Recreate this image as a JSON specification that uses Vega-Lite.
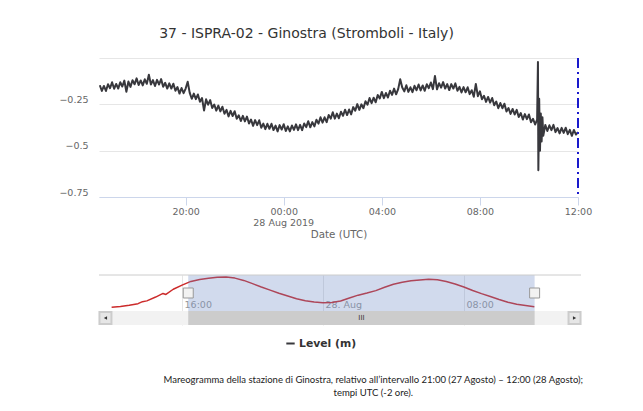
{
  "$schema": "https://vega.github.io/schema/vega-lite/v6.json",
  "background": "white",
  "padding": {"left": 58, "top": 27, "right": 10, "bottom": 4},
  "config": {"font": "DejaVu Sans", "view": {"stroke": null}},
  "datasets": {
    "main": [
      {"t":"2019-08-27T16:30Z","v":-0.147},{"t":"2019-08-27T16:35Z","v":-0.178},{"t":"2019-08-27T16:40Z","v":-0.151},{"t":"2019-08-27T16:45Z","v":-0.178},{"t":"2019-08-27T16:50Z","v":-0.142},{"t":"2019-08-27T16:55Z","v":-0.163},
      {"t":"2019-08-27T17:00Z","v":-0.131},{"t":"2019-08-27T17:05Z","v":-0.166},{"t":"2019-08-27T17:10Z","v":-0.140},{"t":"2019-08-27T17:15Z","v":-0.165},{"t":"2019-08-27T17:20Z","v":-0.131},{"t":"2019-08-27T17:25Z","v":-0.154},
      {"t":"2019-08-27T17:30Z","v":-0.122},{"t":"2019-08-27T17:35Z","v":-0.182},{"t":"2019-08-27T17:40Z","v":-0.127},{"t":"2019-08-27T17:45Z","v":-0.156},{"t":"2019-08-27T17:50Z","v":-0.120},{"t":"2019-08-27T17:55Z","v":-0.142},
      {"t":"2019-08-27T18:00Z","v":-0.110},{"t":"2019-08-27T18:05Z","v":-0.146},{"t":"2019-08-27T18:10Z","v":-0.121},{"t":"2019-08-27T18:15Z","v":-0.148},{"t":"2019-08-27T18:20Z","v":-0.115},{"t":"2019-08-27T18:25Z","v":-0.139},
      {"t":"2019-08-27T18:30Z","v":-0.090},{"t":"2019-08-27T18:35Z","v":-0.143},{"t":"2019-08-27T18:40Z","v":-0.119},{"t":"2019-08-27T18:45Z","v":-0.151},{"t":"2019-08-27T18:50Z","v":-0.118},{"t":"2019-08-27T18:55Z","v":-0.143},
      {"t":"2019-08-27T19:00Z","v":-0.114},{"t":"2019-08-27T19:05Z","v":-0.155},{"t":"2019-08-27T19:10Z","v":-0.134},{"t":"2019-08-27T19:15Z","v":-0.165},{"t":"2019-08-27T19:20Z","v":-0.137},{"t":"2019-08-27T19:25Z","v":-0.165},
      {"t":"2019-08-27T19:30Z","v":-0.139},{"t":"2019-08-27T19:35Z","v":-0.177},{"t":"2019-08-27T19:40Z","v":-0.157},{"t":"2019-08-27T19:45Z","v":-0.192},{"t":"2019-08-27T19:50Z","v":-0.162},{"t":"2019-08-27T19:55Z","v":-0.190},
      {"t":"2019-08-27T20:00Z","v":-0.165},{"t":"2019-08-27T20:05Z","v":-0.128},{"t":"2019-08-27T20:10Z","v":-0.188},{"t":"2019-08-27T20:15Z","v":-0.220},{"t":"2019-08-27T20:20Z","v":-0.192},{"t":"2019-08-27T20:25Z","v":-0.222},
      {"t":"2019-08-27T20:30Z","v":-0.197},{"t":"2019-08-27T20:35Z","v":-0.236},{"t":"2019-08-27T20:40Z","v":-0.216},{"t":"2019-08-27T20:45Z","v":-0.283},{"t":"2019-08-27T20:50Z","v":-0.223},{"t":"2019-08-27T20:55Z","v":-0.252},
      {"t":"2019-08-27T21:00Z","v":-0.227},{"t":"2019-08-27T21:05Z","v":-0.270},{"t":"2019-08-27T21:10Z","v":-0.251},{"t":"2019-08-27T21:15Z","v":-0.284},{"t":"2019-08-27T21:20Z","v":-0.257},{"t":"2019-08-27T21:25Z","v":-0.288},
      {"t":"2019-08-27T21:30Z","v":-0.263},{"t":"2019-08-27T21:35Z","v":-0.301},{"t":"2019-08-27T21:40Z","v":-0.280},{"t":"2019-08-27T21:45Z","v":-0.315},{"t":"2019-08-27T21:50Z","v":-0.285},{"t":"2019-08-27T21:55Z","v":-0.313},
      {"t":"2019-08-27T22:00Z","v":-0.287},{"t":"2019-08-27T22:05Z","v":-0.328},{"t":"2019-08-27T22:10Z","v":-0.309},{"t":"2019-08-27T22:15Z","v":-0.340},{"t":"2019-08-27T22:20Z","v":-0.312},{"t":"2019-08-27T22:25Z","v":-0.342},
      {"t":"2019-08-27T22:30Z","v":-0.316},{"t":"2019-08-27T22:35Z","v":-0.353},{"t":"2019-08-27T22:40Z","v":-0.332},{"t":"2019-08-27T22:45Z","v":-0.366},{"t":"2019-08-27T22:50Z","v":-0.335},{"t":"2019-08-27T22:55Z","v":-0.362},
      {"t":"2019-08-27T23:00Z","v":-0.336},{"t":"2019-08-27T23:05Z","v":-0.376},{"t":"2019-08-27T23:10Z","v":-0.354},{"t":"2019-08-27T23:15Z","v":-0.384},{"t":"2019-08-27T23:20Z","v":-0.355},{"t":"2019-08-27T23:25Z","v":-0.382},
      {"t":"2019-08-27T23:30Z","v":-0.355},{"t":"2019-08-27T23:35Z","v":-0.389},{"t":"2019-08-27T23:40Z","v":-0.365},{"t":"2019-08-27T23:45Z","v":-0.396},{"t":"2019-08-27T23:50Z","v":-0.362},{"t":"2019-08-27T23:55Z","v":-0.386},
      {"t":"2019-08-28T00:00Z","v":-0.357},{"t":"2019-08-28T00:05Z","v":-0.394},{"t":"2019-08-28T00:10Z","v":-0.369},{"t":"2019-08-28T00:15Z","v":-0.396},{"t":"2019-08-28T00:20Z","v":-0.364},{"t":"2019-08-28T00:25Z","v":-0.388},
      {"t":"2019-08-28T00:30Z","v":-0.358},{"t":"2019-08-28T00:35Z","v":-0.389},{"t":"2019-08-28T00:40Z","v":-0.361},{"t":"2019-08-28T00:45Z","v":-0.389},{"t":"2019-08-28T00:50Z","v":-0.353},{"t":"2019-08-28T00:55Z","v":-0.373},
      {"t":"2019-08-28T01:00Z","v":-0.341},{"t":"2019-08-28T01:05Z","v":-0.374},{"t":"2019-08-28T01:10Z","v":-0.346},{"t":"2019-08-28T01:15Z","v":-0.369},{"t":"2019-08-28T01:20Z","v":-0.333},{"t":"2019-08-28T01:25Z","v":-0.354},
      {"t":"2019-08-28T01:30Z","v":-0.320},{"t":"2019-08-28T01:35Z","v":-0.349},{"t":"2019-08-28T01:40Z","v":-0.320},{"t":"2019-08-28T01:45Z","v":-0.346},{"t":"2019-08-28T01:50Z","v":-0.308},{"t":"2019-08-28T01:55Z","v":-0.327},
      {"t":"2019-08-28T02:00Z","v":-0.293},{"t":"2019-08-28T02:05Z","v":-0.327},{"t":"2019-08-28T02:10Z","v":-0.300},{"t":"2019-08-28T02:15Z","v":-0.325},{"t":"2019-08-28T02:20Z","v":-0.290},{"t":"2019-08-28T02:25Z","v":-0.312},
      {"t":"2019-08-28T02:30Z","v":-0.279},{"t":"2019-08-28T02:35Z","v":-0.308},{"t":"2019-08-28T02:40Z","v":-0.278},{"t":"2019-08-28T02:45Z","v":-0.304},{"t":"2019-08-28T02:50Z","v":-0.265},{"t":"2019-08-28T02:55Z","v":-0.284},
      {"t":"2019-08-28T03:00Z","v":-0.249},{"t":"2019-08-28T03:05Z","v":-0.280},{"t":"2019-08-28T03:10Z","v":-0.250},{"t":"2019-08-28T03:15Z","v":-0.271},{"t":"2019-08-28T03:20Z","v":-0.233},{"t":"2019-08-28T03:25Z","v":-0.252},
      {"t":"2019-08-28T03:30Z","v":-0.216},{"t":"2019-08-28T03:35Z","v":-0.244},{"t":"2019-08-28T03:40Z","v":-0.214},{"t":"2019-08-28T03:45Z","v":-0.239},{"t":"2019-08-28T03:50Z","v":-0.200},{"t":"2019-08-28T03:55Z","v":-0.218},
      {"t":"2019-08-28T04:00Z","v":-0.183},{"t":"2019-08-28T04:05Z","v":-0.217},{"t":"2019-08-28T04:10Z","v":-0.189},{"t":"2019-08-28T04:15Z","v":-0.213},{"t":"2019-08-28T04:20Z","v":-0.177},{"t":"2019-08-28T04:25Z","v":-0.199},
      {"t":"2019-08-28T04:30Z","v":-0.165},{"t":"2019-08-28T04:35Z","v":-0.196},{"t":"2019-08-28T04:40Z","v":-0.168},{"t":"2019-08-28T04:45Z","v":-0.115},{"t":"2019-08-28T04:50Z","v":-0.159},{"t":"2019-08-28T04:55Z","v":-0.180},
      {"t":"2019-08-28T05:00Z","v":-0.147},{"t":"2019-08-28T05:05Z","v":-0.183},{"t":"2019-08-28T05:10Z","v":-0.158},{"t":"2019-08-28T05:15Z","v":-0.184},{"t":"2019-08-28T05:20Z","v":-0.150},{"t":"2019-08-28T05:25Z","v":-0.174},
      {"t":"2019-08-28T05:30Z","v":-0.143},{"t":"2019-08-28T05:35Z","v":-0.175},{"t":"2019-08-28T05:40Z","v":-0.148},{"t":"2019-08-28T05:45Z","v":-0.177},{"t":"2019-08-28T05:50Z","v":-0.142},{"t":"2019-08-28T05:55Z","v":-0.163},
      {"t":"2019-08-28T06:00Z","v":-0.132},{"t":"2019-08-28T06:05Z","v":-0.168},{"t":"2019-08-28T06:10Z","v":-0.097},{"t":"2019-08-28T06:15Z","v":-0.169},{"t":"2019-08-28T06:20Z","v":-0.136},{"t":"2019-08-28T06:25Z","v":-0.160},
      {"t":"2019-08-28T06:30Z","v":-0.130},{"t":"2019-08-28T06:35Z","v":-0.165},{"t":"2019-08-28T06:40Z","v":-0.141},{"t":"2019-08-28T06:45Z","v":-0.173},{"t":"2019-08-28T06:50Z","v":-0.141},{"t":"2019-08-28T06:55Z","v":-0.165},
      {"t":"2019-08-28T07:00Z","v":-0.137},{"t":"2019-08-28T07:05Z","v":-0.177},{"t":"2019-08-28T07:10Z","v":-0.156},{"t":"2019-08-28T07:15Z","v":-0.186},{"t":"2019-08-28T07:20Z","v":-0.157},{"t":"2019-08-28T07:25Z","v":-0.185},
      {"t":"2019-08-28T07:30Z","v":-0.158},{"t":"2019-08-28T07:35Z","v":-0.195},{"t":"2019-08-28T07:40Z","v":-0.174},{"t":"2019-08-28T07:45Z","v":-0.209},{"t":"2019-08-28T07:50Z","v":-0.140},{"t":"2019-08-28T07:55Z","v":-0.206},
      {"t":"2019-08-28T08:00Z","v":-0.180},{"t":"2019-08-28T08:05Z","v":-0.223},{"t":"2019-08-28T08:10Z","v":-0.204},{"t":"2019-08-28T08:15Z","v":-0.237},{"t":"2019-08-28T08:20Z","v":-0.210},{"t":"2019-08-28T08:25Z","v":-0.241},
      {"t":"2019-08-28T08:30Z","v":-0.216},{"t":"2019-08-28T08:35Z","v":-0.255},{"t":"2019-08-28T08:40Z","v":-0.235},{"t":"2019-08-28T08:45Z","v":-0.271},{"t":"2019-08-28T08:50Z","v":-0.243},{"t":"2019-08-28T08:55Z","v":-0.271},
      {"t":"2019-08-28T09:00Z","v":-0.247},{"t":"2019-08-28T09:05Z","v":-0.289},{"t":"2019-08-28T09:10Z","v":-0.270},{"t":"2019-08-28T09:15Z","v":-0.302},{"t":"2019-08-28T09:20Z","v":-0.275},{"t":"2019-08-28T09:25Z","v":-0.305},
      {"t":"2019-08-28T09:30Z","v":-0.280},{"t":"2019-08-28T09:35Z","v":-0.318},{"t":"2019-08-28T09:40Z","v":-0.297},{"t":"2019-08-28T09:45Z","v":-0.332},{"t":"2019-08-28T09:50Z","v":-0.303},{"t":"2019-08-28T09:55Z","v":-0.330},
      {"t":"2019-08-28T10:00Z","v":-0.305},{"t":"2019-08-28T10:05Z","v":-0.347},{"t":"2019-08-28T10:10Z","v":-0.328},{"t":"2019-08-28T10:15Z","v":-0.359},{"t":"2019-08-28T10:20Z","v":-0.332},
      {"t":"2019-08-28T10:22Z","v":-0.022},{"t":"2019-08-28T10:23Z","v":-0.605},{"t":"2019-08-28T10:25Z","v":-0.220},{"t":"2019-08-28T10:27Z","v":-0.500},{"t":"2019-08-28T10:29Z","v":-0.300},{"t":"2019-08-28T10:31Z","v":-0.450},{"t":"2019-08-28T10:33Z","v":-0.320},{"t":"2019-08-28T10:35Z","v":-0.420},
      {"t":"2019-08-28T10:40Z","v":-0.361},{"t":"2019-08-28T10:45Z","v":-0.394},{"t":"2019-08-28T10:50Z","v":-0.363},{"t":"2019-08-28T10:55Z","v":-0.389},
      {"t":"2019-08-28T11:00Z","v":-0.361},{"t":"2019-08-28T11:05Z","v":-0.400},{"t":"2019-08-28T11:10Z","v":-0.378},{"t":"2019-08-28T11:15Z","v":-0.407},{"t":"2019-08-28T11:20Z","v":-0.377},{"t":"2019-08-28T11:25Z","v":-0.404},
      {"t":"2019-08-28T11:30Z","v":-0.376},{"t":"2019-08-28T11:35Z","v":-0.411},{"t":"2019-08-28T11:40Z","v":-0.388},{"t":"2019-08-28T11:45Z","v":-0.420},{"t":"2019-08-28T11:50Z","v":-0.388},{"t":"2019-08-28T11:55Z","v":-0.413},
      {"t":"2019-08-28T12:00Z","v":-0.400}
    ],
    "nav": [
      {"t":"2019-08-27T12:00Z","v":-0.428},{"t":"2019-08-27T12:30Z","v":-0.421},{"t":"2019-08-27T13:00Z","v":-0.408},{"t":"2019-08-27T13:30Z","v":-0.392},{"t":"2019-08-27T13:45Z","v":-0.372},{"t":"2019-08-27T14:00Z","v":-0.364},
      {"t":"2019-08-27T14:30Z","v":-0.326},{"t":"2019-08-27T14:55Z","v":-0.290},{"t":"2019-08-27T15:05Z","v":-0.300},{"t":"2019-08-27T15:30Z","v":-0.248},{"t":"2019-08-27T16:00Z","v":-0.207},
      {"t":"2019-08-27T16:30Z","v":-0.170},{"t":"2019-08-27T17:00Z","v":-0.150},{"t":"2019-08-27T17:30Z","v":-0.138},{"t":"2019-08-27T18:00Z","v":-0.129},{"t":"2019-08-27T18:30Z","v":-0.127},
      {"t":"2019-08-27T19:00Z","v":-0.137},{"t":"2019-08-27T19:30Z","v":-0.160},{"t":"2019-08-27T20:00Z","v":-0.192},{"t":"2019-08-27T20:30Z","v":-0.226},{"t":"2019-08-27T21:00Z","v":-0.257},
      {"t":"2019-08-27T21:30Z","v":-0.288},{"t":"2019-08-27T22:00Z","v":-0.316},{"t":"2019-08-27T22:30Z","v":-0.342},{"t":"2019-08-27T23:00Z","v":-0.362},{"t":"2019-08-27T23:30Z","v":-0.376},
      {"t":"2019-08-28T00:00Z","v":-0.382},{"t":"2019-08-28T00:30Z","v":-0.380},{"t":"2019-08-28T01:00Z","v":-0.366},{"t":"2019-08-28T01:30Z","v":-0.336},{"t":"2019-08-28T02:00Z","v":-0.307},
      {"t":"2019-08-28T02:30Z","v":-0.286},{"t":"2019-08-28T03:00Z","v":-0.262},{"t":"2019-08-28T03:30Z","v":-0.228},{"t":"2019-08-28T04:00Z","v":-0.198},{"t":"2019-08-28T04:30Z","v":-0.178},
      {"t":"2019-08-28T05:00Z","v":-0.164},{"t":"2019-08-28T05:30Z","v":-0.155},{"t":"2019-08-28T06:00Z","v":-0.148},{"t":"2019-08-28T06:30Z","v":-0.154},{"t":"2019-08-28T07:00Z","v":-0.170},
      {"t":"2019-08-28T07:30Z","v":-0.195},{"t":"2019-08-28T08:00Z","v":-0.225},{"t":"2019-08-28T08:30Z","v":-0.260},{"t":"2019-08-28T09:00Z","v":-0.292},{"t":"2019-08-28T09:30Z","v":-0.320},
      {"t":"2019-08-28T10:00Z","v":-0.350},{"t":"2019-08-28T10:30Z","v":-0.377},{"t":"2019-08-28T11:00Z","v":-0.397},{"t":"2019-08-28T11:30Z","v":-0.410},{"t":"2019-08-28T12:00Z","v":-0.422}
    ],
    "sel": [{"start":"2019-08-27T16:21Z","end":"2019-08-28T12:01Z"}],
    "ends": [{"t":"2019-08-27T16:21Z"},{"t":"2019-08-28T12:01Z"}]
  },
  "title": {
    "text": ["Mareogramma della stazione di Ginostra, relativo all’intervallo 21:00 (27 Agosto) – 12:00 (28 Agosto);", "tempi UTC (-2 ore)."],
    "orient": "bottom", "anchor": "middle", "font": "Lato", "fontSize": 9.5, "fontWeight": "normal",
    "color": "#222", "dx": 48, "offset": 26, "lineHeight": 13
  },
  "resolve": {"scale": {"x": "independent", "y": "independent"}},
  "bounds": "flush",
  "spacing": 78,
  "vconcat": [
    {
      "width": 479, "height": 139,
      "title": {"text": "37 - ISPRA-02 - Ginostra (Stromboli - Italy)", "fontSize": 14, "fontWeight": "normal", "color": "#333", "font": "DejaVu Sans", "dx": -32, "offset": 16, "anchor": "middle"},
      "layer": [
        {
          "data": {"name": "main"},
          "mark": {"type": "line", "strokeWidth": 2, "strokeJoin": "round"},
          "encoding": {
            "x": {"field": "t", "type": "temporal",
              "scale": {"type": "utc", "domain": [{"year": 2019, "month": 8, "date": 27, "hours": 16, "minutes": 28, "utc": true}, {"year": 2019, "month": 8, "date": 28, "hours": 12, "utc": true}]},
              "axis": {"values": [1566936000000, 1566950400000, 1566964800000, 1566979200000, 1566993600000],
                "labelExpr": "utcFormat(datum.value, '%H:%M')",
                "title": "Date (UTC)", "titleColor": "#666", "titleFontSize": 10.3, "titleFontWeight": "normal", "titlePadding": 14,
                "labelColor": "#666", "labelFontSize": 9.5, "labelPadding": 1, "labelFlush": false, "labelOverlap": false,
                "tickSize": 8, "tickColor": "#ccd6eb", "domainColor": "#ccd6eb", "grid": false}},
            "y": {"field": "v", "type": "quantitative",
              "scale": {"domain": [-0.75, 0], "nice": false, "zero": false},
              "axis": {"values": [-0.75, -0.5, -0.25, 0], "format": ".2~f", "labelExpr": "datum.value == 0 ? '' : datum.label", "title": null, "domain": false, "ticks": false,
                "gridColor": "#e6e6e6", "labelColor": "#666", "labelFontSize": 9.5, "labelPadding": 11, "labelBaseline": "bottom"}},
            "color": {"datum": "Level (m)", "scale": {"range": ["#38383d"]},
              "legend": {"title": null, "orient": "none", "legendX": 186, "legendY": 280, "symbolType": "stroke", "symbolStrokeWidth": 2, "symbolSize": 70,
                "labelFontWeight": "bold", "labelColor": "#333", "labelFontSize": 10.8, "labelOffset": 3}}
          }
        },
        {
          "data": {"name": "sel"},
          "mark": {"type": "rule", "color": "#1a1acc", "strokeWidth": 2, "strokeDash": [10, 4, 2, 4]},
          "encoding": {"x": {"datum": {"year": 2019, "month": 8, "date": 28, "hours": 12, "utc": true}, "type": "temporal"}}
        },
        {
          "data": {"name": "sel"},
          "mark": {"type": "text", "text": "28 Aug 2019", "fontSize": 9.5, "color": "#666", "baseline": "middle", "align": "center"},
          "encoding": {"x": {"datum": {"year": 2019, "month": 8, "date": 28, "hours": 0, "utc": true}, "type": "temporal"}, "y": {"datum": -0.891}}
        }
      ]
    },
    {
      "width": 482, "height": 50,
      "layer": [
        {
          "data": {"name": "nav"},
          "mark": {"type": "line", "color": "#cc2b2b", "strokeWidth": 1.5, "strokeJoin": "round"},
          "encoding": {
            "x": {"field": "t", "type": "temporal",
              "scale": {"type": "utc", "domain": [{"year": 2019, "month": 8, "date": 27, "hours": 11, "minutes": 17, "utc": true}, {"year": 2019, "month": 8, "date": 28, "hours": 14, "minutes": 39, "utc": true}]},
              "axis": {"values": [1566921600000, 1566950400000, 1566979200000], "title": null, "grid": true, "gridColor": "#e6e6e6", "ticks": false, "domain": false,
                "labelExpr": "utchours(datum.value) == 0 ? utcFormat(datum.value, '%d. %b') : utcFormat(datum.value, '%H:%M')",
                "labelAlign": "left", "labelBaseline": "middle", "labelPadding": -21, "labelOffset": 2, "labelColor": "#999", "labelFontSize": 9.5, "labelFlush": false}},
            "y": {"field": "v", "type": "quantitative", "scale": {"domain": [-0.6046, -0.106], "nice": false, "zero": false}, "axis": null}
          }
        },
        {
          "data": {"name": "sel"},
          "mark": {"type": "rect", "color": "#6685c2", "opacity": 0.3},
          "encoding": {"x": {"field": "start", "type": "temporal"}, "x2": {"field": "end"}, "y": {"datum": -0.465}, "y2": {"datum": -0.106}}
        },
        {
          "data": {"name": "sel"},
          "mark": {"type": "rule", "color": "#cccccc", "strokeWidth": 1},
          "encoding": {"y": {"datum": -0.106}}
        },
        {
          "data": {"name": "sel"},
          "mark": {"type": "rect", "color": "#f2f2f2"},
          "encoding": {"y": {"datum": -0.6046}, "y2": {"datum": -0.465}}
        },
        {
          "data": {"name": "sel"},
          "mark": {"type": "rect", "color": "#cccccc"},
          "encoding": {"x": {"field": "start", "type": "temporal"}, "x2": {"field": "end"}, "y": {"datum": -0.6046}, "y2": {"datum": -0.465}}
        },
        {
          "data": {"name": "sel"},
          "mark": {"type": "point", "shape": "square", "size": 144, "filled": true, "fill": "#e6e6e6", "stroke": "#cccccc", "opacity": 1},
          "encoding": {"x": {"datum": {"year": 2019, "month": 8, "date": 27, "hours": 11, "minutes": 39, "utc": true}, "type": "temporal"}, "y": {"datum": -0.5348}}
        },
        {
          "data": {"name": "sel"},
          "mark": {"type": "point", "shape": "square", "size": 144, "filled": true, "fill": "#e6e6e6", "stroke": "#cccccc", "opacity": 1},
          "encoding": {"x": {"datum": {"year": 2019, "month": 8, "date": 28, "hours": 14, "minutes": 17, "utc": true}, "type": "temporal"}, "y": {"datum": -0.5348}}
        },
        {
          "data": {"name": "sel"},
          "mark": {"type": "point", "shape": "triangle-left", "size": 14, "filled": true, "color": "#333", "opacity": 1},
          "encoding": {"x": {"datum": {"year": 2019, "month": 8, "date": 27, "hours": 11, "minutes": 39, "utc": true}, "type": "temporal"}, "y": {"datum": -0.5348}}
        },
        {
          "data": {"name": "sel"},
          "mark": {"type": "point", "shape": "triangle-right", "size": 14, "filled": true, "color": "#333", "opacity": 1},
          "encoding": {"x": {"datum": {"year": 2019, "month": 8, "date": 28, "hours": 14, "minutes": 17, "utc": true}, "type": "temporal"}, "y": {"datum": -0.5348}}
        },
        {
          "data": {"name": "sel"},
          "mark": {"type": "text", "text": "III", "fontSize": 7, "color": "#333", "baseline": "middle", "align": "center"},
          "encoding": {"x": {"datum": {"year": 2019, "month": 8, "date": 28, "hours": 2, "minutes": 11, "utc": true}, "type": "temporal"}, "y": {"datum": -0.5348}}
        },
        {
          "data": {"name": "ends"},
          "mark": {"type": "point", "shape": "square", "size": 100, "filled": true, "fill": "#f2f2f2", "stroke": "#999999", "strokeWidth": 1, "opacity": 1},
          "encoding": {"x": {"field": "t", "type": "temporal"}, "y": {"datum": -0.2855}}
        }
      ]
    }
  ]
}
